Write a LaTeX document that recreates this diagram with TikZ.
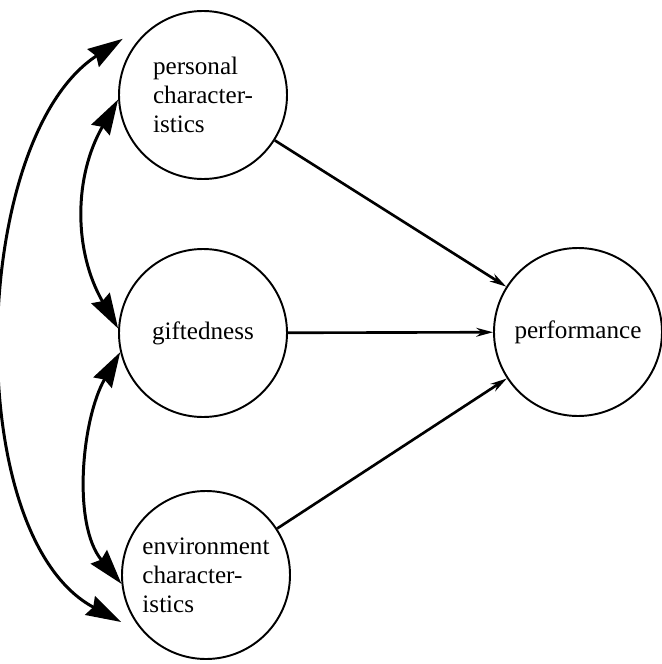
\documentclass[tikz,border=0pt]{standalone}
\usepackage{fontspec}
\setmainfont{Liberation Serif}
\usetikzlibrary{arrows.meta}

\begin{document}
\begin{tikzpicture}[
	factor/.style={circle, draw, line width=1.1pt, minimum size=3.36cm, inner sep=0pt, align=left, font=\fontsize{14.3}{16.4}\selectfont},
	effect/.style={-{Stealth[length=9.5pt,width=5pt]}, line width=1.5pt},
	corr/.style={{Stealth[length=20pt,width=12pt,inset=2pt]}-{Stealth[length=20pt,width=12pt,inset=2pt]}, line width=1.7pt}]
				\useasboundingbox (0,0) rectangle (13.22,-13.28);
				
				\node[factor] (pers) at (4.06, -1.90) {personal\\character-\\istics};
				\node[factor] (gift) at (4.06, -6.66) {giftedness};
				\node[factor] (env) at (4.12, -11.50) {environment\\character-\\istics};
				\node[factor] (perf) at (11.56, -6.64) {performance};
				
				% paths to performance
				\draw[effect] (pers) -- (perf);
				\draw[effect] (gift) -- (perf);
				\draw[effect] (env) -- (perf);
				
				% correlations
				\draw[corr] (pers.183) to[out=240, in=120] (gift.177);
				\draw[corr] (gift.193) to[out=240, in=130, looseness=0.85] (env.186);
				\draw[corr] ([shift={(145:0.26)}]pers.145) to[out=213, in=152, looseness=0.8] ([shift={(209:0.24)}]env.209);
			\end{tikzpicture}
\end{document}
